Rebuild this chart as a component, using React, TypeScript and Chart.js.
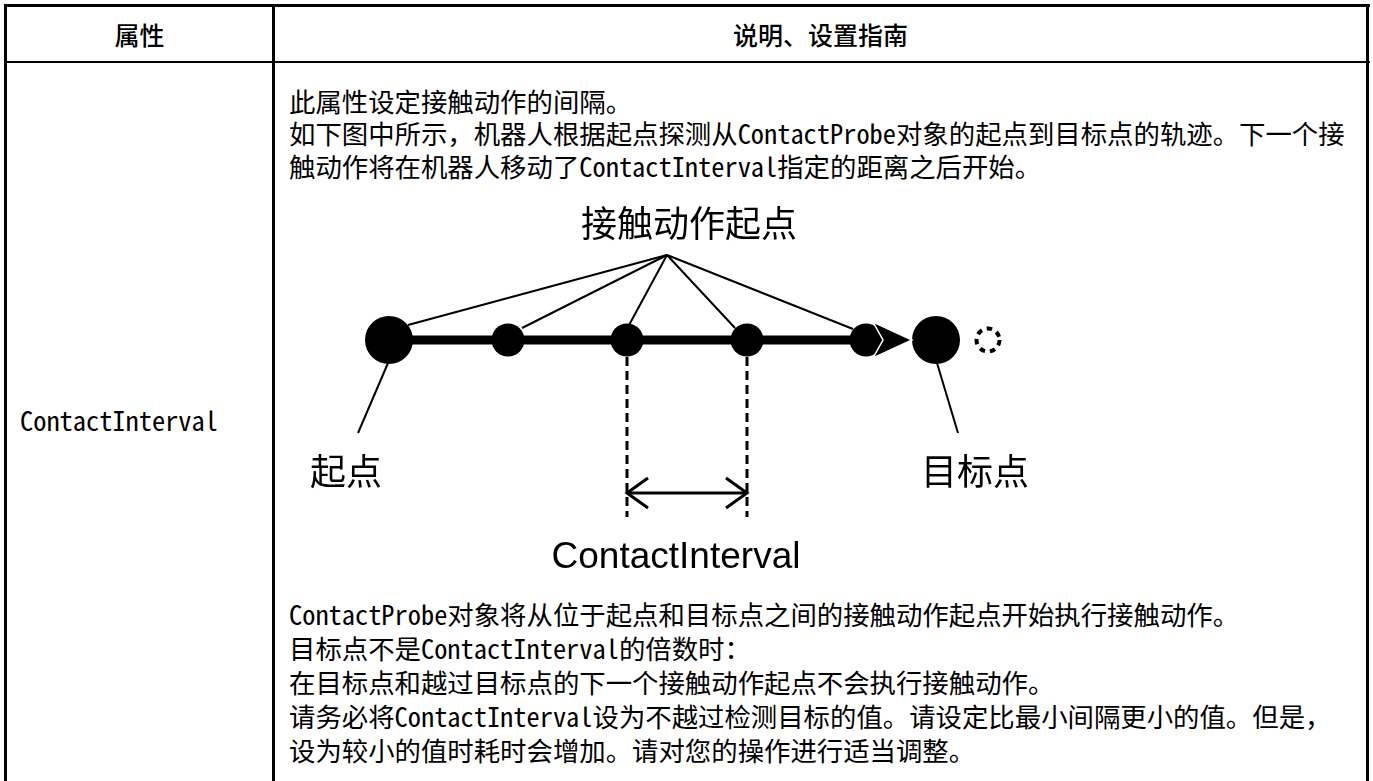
import React, { useEffect, useRef } from 'react';
import { Chart, registerables } from 'chart.js';

Chart.register(...registerables);

// ---------- table text ----------
const headerLabels = ['属性', '说明、设置指南'];
const propertyName = 'ContactInterval';
const introLines = [
  '此属性设定接触动作的间隔。',
  '如下图中所示，机器人根据起点探测从ContactProbe对象的起点到目标点的轨迹。下一个接',
  '触动作将在机器人移动了ContactInterval指定的距离之后开始。',
];
const noteLines = [
  'ContactProbe对象将从位于起点和目标点之间的接触动作起点开始执行接触动作。',
  '目标点不是ContactInterval的倍数时：',
  '在目标点和越过目标点的下一个接触动作起点不会执行接触动作。',
  '请务必将ContactInterval设为不越过检测目标的值。请设定比最小间隔更小的值。但是，',
  '设为较小的值时耗时会增加。请对您的操作进行适当调整。',
];

// ---------- diagram data (distance along trajectory, height above it) ----------
const startPosition = 0;
const contactPositions = [119, 238, 358, 477];
const targetPosition = 547;
const nextContactPosition = 599;
const trajectoryEnd = 494;
const arrowX = [484, 523, 484, 494, 484];
const arrowY = [18, 0, -18, 0, 18];
const apexX = 278;
const apexY = 85;
const apexEndX = [19, 133, 239, 346, 464];
const apexEndY = [15, 12, 13, 12, 11];
const leaderStartX = [-1, 548];
const leaderEndX = [-31, 569];
const leaderStartY = [-23, -23];
const leaderEndY = [-93, -93];
const dashTopY = -17;
const dashBottomY = -177;
const intervalArrowY = -153;
const chevronDX = 21;
const chevronDY = 15;
const diagramLabels = ['接触动作起点', '起点', '目标点', 'ContactInterval'];
const labelX = [300, -43, 586, 287];
const labelY = [117, -131, -131, -228];

const BODY_FONT = '"Noto Sans Mono CJK SC", "Noto Sans CJK SC", monospace';

function seg(x1: number, y1: number, x2: number, y2: number, extra: any = {}) {
  return {
    type: 'scatter',
    showLine: true,
    data: [
      { x: x1, y: y1 },
      { x: x2, y: y2 },
    ],
    borderColor: '#000',
    borderWidth: 2,
    pointRadius: 0,
    clip: false,
    ...extra,
  };
}

function Diagram() {
  const ref = useRef<HTMLCanvasElement | null>(null);
  useEffect(() => {
    const canvas = ref.current;
    if (!canvas) return;

    // dashed ring used as the point style of the next (skipped) contact point
    const ring = document.createElement('canvas');
    ring.width = 34;
    ring.height = 34;
    const rc = ring.getContext('2d')!;
    rc.strokeStyle = '#000';
    rc.lineWidth = 4;
    rc.setLineDash([5.5, 5]);
    rc.beginPath();
    rc.arc(17, 17, 11.5, 0, Math.PI * 2);
    rc.stroke();

    const markerXs = [startPosition, ...contactPositions, targetPosition];
    const last = markerXs.length - 1;

    const labelPlugin = {
      id: 'diagramLabels',
      afterDatasetsDraw(chart: any) {
        const { ctx, scales } = chart;
        ctx.save();
        ctx.fillStyle = '#000';
        ctx.textAlign = 'center';
        diagramLabels.forEach((t, i) => {
          const px = scales.x.getPixelForValue(labelX[i]);
          const py = scales.y.getPixelForValue(labelY[i]);
          if (/^[A-Za-z]/.test(t)) {
            ctx.font = '37px "Liberation Sans", Arial, sans-serif';
            ctx.textBaseline = 'alphabetic';
          } else {
            ctx.font = '36px "Noto Sans CJK SC", sans-serif';
            ctx.textBaseline = 'middle';
          }
          ctx.fillText(t, px, py);
        });
        ctx.restore();
      },
    };

    const datasets: any[] = [
      {
        type: 'line',
        data: arrowX.map((x, i) => ({ x, y: arrowY[i] })),
        borderColor: '#fff',
        borderWidth: 1.5,
        backgroundColor: '#000',
        fill: 'shape',
        pointRadius: 0,
        tension: 0,
        clip: false,
      },
      {
        type: 'scatter',
        data: markerXs.map((x) => ({ x, y: 0 })),
        pointRadius: (c: any) => (c.dataIndex === 0 || c.dataIndex === last ? 24 : 16.5),
        backgroundColor: '#000',
        borderWidth: 0,
        clip: false,
      },
      {
        type: 'scatter',
        data: [{ x: nextContactPosition, y: 0 }],
        pointStyle: ring,
        pointRadius: 12,
        clip: false,
      },
      seg(startPosition, 0, trajectoryEnd, 0, { borderWidth: 9, borderCapStyle: 'butt' }),
      ...apexEndX.map((x, i) => seg(apexX, apexY, x, apexEndY[i])),
      ...leaderStartX.map((x, i) => seg(x, leaderStartY[i], leaderEndX[i], leaderEndY[i])),
      seg(contactPositions[1], dashTopY, contactPositions[1], dashBottomY, {
        borderWidth: 3,
        borderDash: [9, 5],
      }),
      seg(contactPositions[2], dashTopY, contactPositions[2], dashBottomY, {
        borderWidth: 3,
        borderDash: [9, 5],
      }),
      seg(contactPositions[1], intervalArrowY, contactPositions[2], intervalArrowY, { borderWidth: 3 }),
      {
        type: 'scatter',
        showLine: true,
        data: [
          { x: contactPositions[1] + chevronDX, y: intervalArrowY + chevronDY },
          { x: contactPositions[1], y: intervalArrowY },
          { x: contactPositions[1] + chevronDX, y: intervalArrowY - chevronDY },
        ],
        borderColor: '#000',
        borderWidth: 3,
        pointRadius: 0,
        clip: false,
      },
      {
        type: 'scatter',
        showLine: true,
        data: [
          { x: contactPositions[2] - chevronDX, y: intervalArrowY + chevronDY },
          { x: contactPositions[2], y: intervalArrowY },
          { x: contactPositions[2] - chevronDX, y: intervalArrowY - chevronDY },
        ],
        borderColor: '#000',
        borderWidth: 3,
        pointRadius: 0,
        clip: false,
      },
    ];

    const chart = new Chart(canvas, {
      type: 'scatter',
      data: { datasets },
      options: {
        animation: false,
        responsive: false,
        maintainAspectRatio: false,
        devicePixelRatio: 1,
        events: [],
        layout: { padding: 0, autoPadding: false },
        plugins: { legend: { display: false }, tooltip: { enabled: false } },
        scales: {
          x: { type: 'linear', min: -100, max: 963, display: false },
          y: { type: 'linear', min: -249, max: 158, display: false },
        },
      } as any,
      plugins: [labelPlugin],
    } as any);
    return () => chart.destroy();
  }, []);
  return (
    <canvas
      ref={ref}
      width={1063}
      height={407}
      style={{ position: 'absolute', left: 289, top: 182, width: 1063, height: 407 }}
    />
  );
}

const bar = (left: number, top: number, width: number, height: number): React.CSSProperties => ({
  position: 'absolute',
  left,
  top,
  width,
  height,
  background: '#000',
});

export default function App() {
  const introLine: React.CSSProperties = {
    height: 32.4,
    lineHeight: '32.4px',
    whiteSpace: 'nowrap',
  };
  const noteLine: React.CSSProperties = {
    height: 34,
    lineHeight: '34px',
    whiteSpace: 'nowrap',
  };
  const headerStyle: React.CSSProperties = {
    position: 'absolute',
    top: 7,
    height: 54,
    display: 'flex',
    alignItems: 'center',
    justifyContent: 'center',
    fontFamily: '"Noto Sans CJK SC", sans-serif',
    fontSize: 25,
    fontWeight: 500,
  };
  return (
    <div
      style={{
        position: 'fixed',
        left: 0,
        top: 0,
        width: 1373,
        height: 781,
        overflow: 'hidden',
        background: '#fff',
        color: '#000',
      }}
    >
      {/* borders */}
      <div style={bar(4, 4, 1366, 3)} />
      <div style={bar(4, 4, 3, 777)} />
      <div style={bar(1366, 4, 3, 777)} />
      <div style={bar(272, 4, 3, 777)} />
      <div style={bar(4, 61, 1366, 2)} />

      {/* header */}
      <div style={{ ...headerStyle, left: 7, width: 265 }}>{headerLabels[0]}</div>
      <div style={{ ...headerStyle, left: 275, width: 1091 }}>{headerLabels[1]}</div>

      {/* property name */}
      <div
        style={{
          position: 'absolute',
          left: 20,
          top: 420 - 16.2,
          ...introLine,
          fontFamily: BODY_FONT,
          fontSize: 26.4,
          fontWeight: 300,
        }}
      >
        {propertyName}
      </div>

      {/* description */}
      <div
        style={{
          position: 'absolute',
          left: 289,
          top: 84.8,
          fontFamily: BODY_FONT,
          fontSize: 26.4,
          fontWeight: 300,
        }}
      >
        {introLines.map((l, i) => (
          <div key={i} style={introLine}>
            {l}
          </div>
        ))}
      </div>
      <Diagram />
      <div
        style={{
          position: 'absolute',
          left: 289,
          top: 597,
          fontFamily: BODY_FONT,
          fontSize: 26.4,
          fontWeight: 300,
        }}
      >
        {noteLines.map((l, i) => (
          <div key={i} style={noteLine}>
            {l}
          </div>
        ))}
      </div>
    </div>
  );
}
